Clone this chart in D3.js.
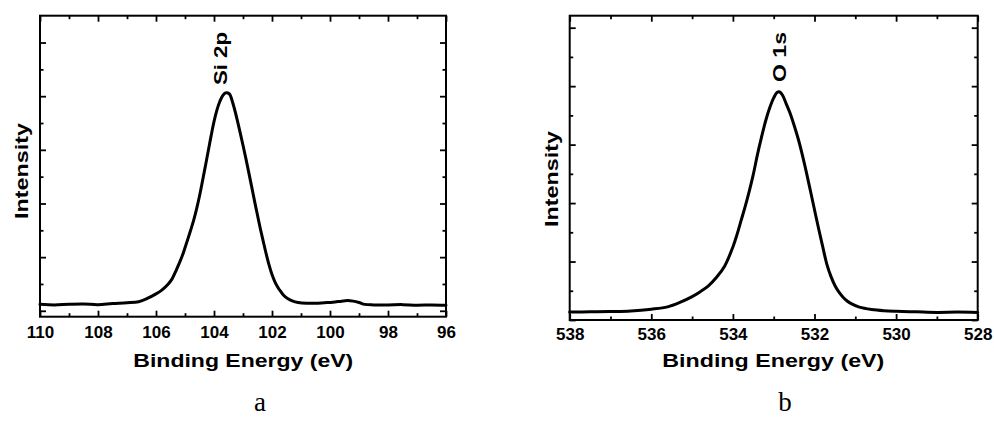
<!DOCTYPE html>
<html>
<head>
<meta charset="utf-8">
<script src="https://cdn.jsdelivr.net/npm/d3@7"></script>
<style>
  html, body { margin: 0; padding: 0; background: #fff; }
  svg { display: block; }
</style>
</head>
<body>
<svg id="chart" width="994" height="424"></svg>
<script>
// ---- Data ----
const siEnergy = [110.0, 109.5, 109.0, 108.5, 108.0, 107.5, 107.0, 106.6, 106.3, 106.0, 105.8, 105.6, 105.45, 105.3, 105.2, 105.1, 105.0, 104.9, 104.8, 104.7, 104.6, 104.5, 104.4, 104.3, 104.2, 104.1, 104.0, 103.9, 103.8, 103.7, 103.6, 103.52, 103.45, 103.38, 103.3, 103.2, 103.1, 103.0, 102.9, 102.8, 102.7, 102.6, 102.5, 102.4, 102.3, 102.2, 102.1, 102.0, 101.9, 101.8, 101.7, 101.6, 101.45, 101.3, 101.1, 100.8, 100.5, 100.2, 99.9, 99.6, 99.4, 99.2, 99.0, 98.8, 98.5, 98.0, 97.5, 97.0, 96.5, 96.0];
const siIntensity = [0.24, 0.22, 0.24, 0.25, 0.23, 0.27, 0.30, 0.34, 0.46, 0.63, 0.77, 0.97, 1.18, 1.52, 1.77, 2.03, 2.35, 2.68, 3.02, 3.38, 3.80, 4.28, 4.82, 5.38, 5.95, 6.52, 7.05, 7.48, 7.80, 8.02, 8.12, 8.12, 8.06, 7.85, 7.55, 7.12, 6.65, 6.17, 5.67, 5.15, 4.62, 4.08, 3.56, 3.05, 2.58, 2.12, 1.70, 1.35, 1.08, 0.88, 0.72, 0.58, 0.45, 0.37, 0.31, 0.28, 0.28, 0.30, 0.32, 0.36, 0.38, 0.36, 0.31, 0.24, 0.22, 0.22, 0.23, 0.21, 0.22, 0.21];

const oEnergy = [538.0, 537.5, 537.0, 536.5, 536.0, 535.6, 535.3, 535.0, 534.8, 534.6, 534.4, 534.2, 534.0, 533.9, 533.8, 533.7, 533.6, 533.5, 533.4, 533.3, 533.2, 533.1, 533.0, 532.92, 532.85, 532.78, 532.7, 532.6, 532.5, 532.4, 532.3, 532.2, 532.1, 532.0, 531.9, 531.8, 531.7, 531.6, 531.5, 531.4, 531.3, 531.2, 531.1, 530.9, 530.6, 530.3, 530.0, 529.5, 529.0, 528.5, 528.0];
const oIntensity = [0.27, 0.28, 0.29, 0.31, 0.37, 0.45, 0.60, 0.80, 0.97, 1.17, 1.46, 1.85, 2.50, 2.92, 3.40, 3.88, 4.40, 4.98, 5.65, 6.25, 6.80, 7.25, 7.60, 7.78, 7.80, 7.68, 7.42, 7.08, 6.66, 6.20, 5.66, 5.06, 4.42, 3.77, 3.13, 2.52, 1.92, 1.50, 1.18, 0.95, 0.78, 0.65, 0.56, 0.44, 0.36, 0.32, 0.30, 0.28, 0.26, 0.27, 0.26];

const siXMajor = [110, 108, 106, 104, 102, 100, 98, 96];
const siXMinor = [109, 107, 105, 103, 101, 99, 97];
const oXMajor = [538, 536, 534, 532, 530, 528];
const oXMinor = [537, 535, 533, 531, 529];
const siYMajor = [0, 2, 4, 6, 8, 10];
const siYMinor = [1, 3, 5, 7, 9];
const oYMajor = [0, 2, 4, 6, 8, 10];
const oYMinor = [1, 3, 5, 7, 9];

const SANS = "'Liberation Sans', Arial, Helvetica, sans-serif";
const SERIF = "'Liberation Serif', 'Times New Roman', serif";

const panels = [
  { energy: siEnergy, intensity: siIntensity, xDomain: [110, 96], yDomain: [-0.22, 11.0],
    xMajor: siXMajor, xMinor: siXMinor, yMajor: siYMajor, yMinor: siYMinor,
    left: 40, right: 446, top: 15.7, bottom: 316.7, tickPad: 9.5,
    peakLabel: "Si 2p", peakX: 227, peakY: 58.5, peakLen: 53,
    yTitleX: 28, yTitleY: 171, yTitleLen: 96,
    xTitleX: 243.3, xTitleLen: 220,
    letter: "a", letterX: 260 },
  { energy: oEnergy, intensity: oIntensity, xDomain: [538, 528], yDomain: [0, 10.41],
    xMajor: oXMajor, xMinor: oXMinor, yMajor: oYMajor, yMinor: oYMinor,
    left: 569.7, right: 977.7, top: 15.7, bottom: 320, tickPad: 7.5,
    peakLabel: "O 1s", peakX: 786, peakY: 57, peakLen: 50,
    yTitleX: 558, yTitleY: 179, yTitleLen: 96,
    xTitleX: 773.3, xTitleLen: 222,
    letter: "b", letterX: 785 }
];

const svg = d3.select("#chart");

panels.forEach(p => {
  const g = svg.append("g");
  const x = d3.scaleLinear().domain(p.xDomain).range([p.left, p.right]);
  const y = d3.scaleLinear().domain(p.yDomain).range([p.bottom, p.top]);

  const styleAxis = sel => {
    sel.select(".domain").remove();
    sel.selectAll(".tick line").attr("stroke", "#000").attr("stroke-width", 1.8);
  };

  g.append("g").attr("transform", `translate(0,${p.bottom})`)
    .call(d3.axisBottom(x).tickValues(p.xMajor).tickSize(-6).tickPadding(p.tickPad).tickFormat(d3.format("d")))
    .call(styleAxis)
    .call(s => s.selectAll("text").attr("font-size", 17).attr("font-weight", "bold")
      .attr("fill", "#000").style("font-family", SANS));
  g.append("g").attr("transform", `translate(0,${p.bottom})`)
    .call(d3.axisBottom(x).tickValues(p.xMinor).tickSize(-3.5).tickFormat(""))
    .call(styleAxis);
  g.append("g").attr("transform", `translate(0,${p.top})`)
    .call(d3.axisTop(x).tickValues(p.xMajor).tickSize(-6).tickFormat(""))
    .call(styleAxis);
  g.append("g").attr("transform", `translate(0,${p.top})`)
    .call(d3.axisTop(x).tickValues(p.xMinor).tickSize(-3.5).tickFormat(""))
    .call(styleAxis);
  g.append("g").attr("transform", `translate(${p.left},0)`)
    .call(d3.axisLeft(y).tickValues(p.yMajor).tickSize(-6).tickFormat(""))
    .call(styleAxis);
  g.append("g").attr("transform", `translate(${p.left},0)`)
    .call(d3.axisLeft(y).tickValues(p.yMinor).tickSize(-3.5).tickFormat(""))
    .call(styleAxis);
  g.append("g").attr("transform", `translate(${p.right},0)`)
    .call(d3.axisRight(y).tickValues(p.yMajor).tickSize(-6).tickFormat(""))
    .call(styleAxis);
  g.append("g").attr("transform", `translate(${p.right},0)`)
    .call(d3.axisRight(y).tickValues(p.yMinor).tickSize(-3.5).tickFormat(""))
    .call(styleAxis);

  g.append("rect")
    .attr("x", p.left).attr("y", p.top)
    .attr("width", p.right - p.left).attr("height", p.bottom - p.top)
    .attr("fill", "none").attr("stroke", "#000").attr("stroke-width", 2);

  const pts = p.energy.map((e, i) => [e, p.intensity[i]]);
  const line = d3.line().x(d => x(d[0])).y(d => y(d[1])).curve(d3.curveCatmullRom.alpha(0.5));
  g.append("path").datum(pts)
    .attr("d", line)
    .attr("fill", "none").attr("stroke", "#000").attr("stroke-width", 3)
    .attr("stroke-linejoin", "round").attr("stroke-linecap", "round");

  g.append("text")
    .attr("transform", `translate(${p.peakX},${p.peakY}) rotate(-90)`)
    .attr("text-anchor", "middle")
    .attr("font-size", 18).attr("font-weight", "bold").attr("fill", "#000")
    .style("font-family", SANS)
    .attr("textLength", p.peakLen).attr("lengthAdjust", "spacingAndGlyphs")
    .text(p.peakLabel);

  g.append("text")
    .attr("transform", `translate(${p.yTitleX},${p.yTitleY}) rotate(-90)`)
    .attr("text-anchor", "middle")
    .attr("font-size", 19).attr("font-weight", "bold").attr("fill", "#000")
    .style("font-family", SANS)
    .attr("textLength", p.yTitleLen).attr("lengthAdjust", "spacingAndGlyphs")
    .text("Intensity");

  g.append("text")
    .attr("x", p.xTitleX).attr("y", 366.7)
    .attr("text-anchor", "middle")
    .attr("font-size", 19).attr("font-weight", "bold").attr("fill", "#000")
    .style("font-family", SANS)
    .attr("textLength", p.xTitleLen).attr("lengthAdjust", "spacingAndGlyphs")
    .text("Binding Energy (eV)");

  g.append("text")
    .attr("x", p.letterX).attr("y", 411)
    .attr("text-anchor", "middle")
    .style("font-family", SERIF)
    .attr("font-size", 27).attr("fill", "#000")
    .text(p.letter);
});
</script>
</body>
</html>
